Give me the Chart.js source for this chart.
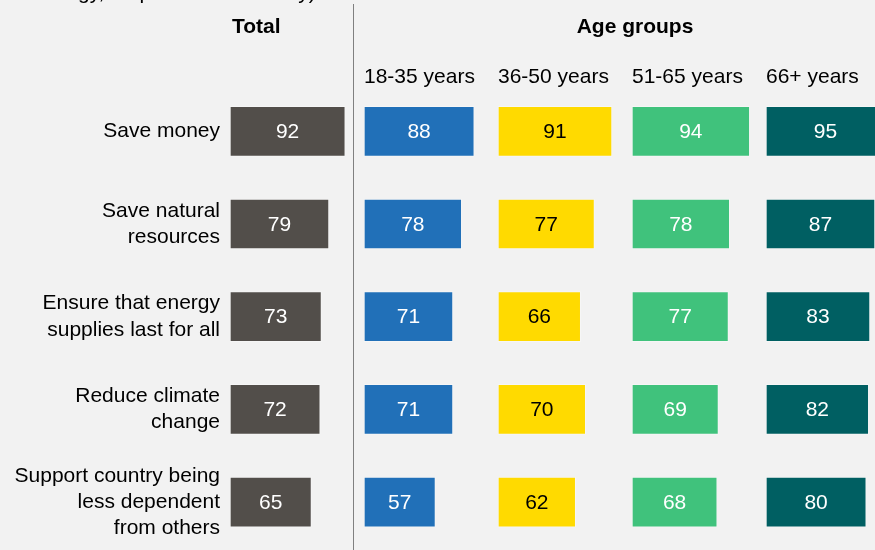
<!DOCTYPE html>
<html><head><meta charset="utf-8">
<script src="https://cdn.jsdelivr.net/npm/chart.js@4.4.0/dist/chart.umd.min.js"></script>
<style>
html,body{margin:0;padding:0;background:#f2f2f2;overflow:hidden;width:875px;height:550px;}
#wrap{position:absolute;left:0;top:0;width:900px;height:550px;}
</style></head><body>
<div id="wrap"><canvas id="c" width="900" height="550"></canvas></div>
<script>
const categories = [["Save money"],["Save natural","resources"],["Ensure that energy","supplies last for all"],["Reduce climate","change"],["Support country being","less dependent","from others"]];
const seriesNames = ["Total","18-35 years","36-50 years","51-65 years","66+ years"];
const total = [92,79,73,72,65];
const age18to35 = [88,78,71,71,57];
const age36to50 = [91,77,66,70,62];
const age51to65 = [94,78,77,69,68];
const age66plus = [95,87,83,82,80];
const headerTotal = "Total";
const headerAge = "Age groups";
const cutSubtitle = "of energy, respondents who say)";

const FONT = "'Liberation Sans', Arial, sans-serif";
const colors = ["#524e4a","#2170b8","#ffda00","#40c27c","#005f62"];
const labelColors = ["#ffffff","#ffffff","#000000","#ffffff","#ffffff"];
const seriesData = [total, age18to35, age36to50, age51to65, age66plus];
const axisIds = ["x0","x1","x2","x3","x4"];

const datasets = seriesData.map((d,i)=>({
  label: seriesNames[i],
  data: d,
  xAxisID: axisIds[i],
  yAxisID: 'y',
  backgroundColor: colors[i],
  borderColor: 'rgba(255,255,255,0.3)',
  borderWidth: 1,
  borderSkipped: false,
  barThickness: 50,
  grouped: false
}));

const scales = {
  y: {
    type: 'category',
    grid: {display:false, drawTicks:false},
    border: {display:false},
    ticks: {font:{family:FONT, size:21, lineHeight:1.24}, color:'#000', padding:10},
    afterFit(s){ s.width = 230; s.paddingTop = 0; s.paddingBottom = 0; }
  }
};
// top-positioned stacked axes are laid out in reverse creation order, so create them last-to-first
for (let i = axisIds.length - 1; i >= 0; i--) {
  scales[axisIds[i]] = {
    type: 'linear', position: 'top', stack: 'cols', stackWeight: 1,
    min: 0, max: 107,
    grid: {display:false, drawTicks:false},
    border: {display:false},
    ticks: {display:false},
    title: {display: i>0, text: seriesNames[i], align:'start', color:'#000',
            font:{family:FONT, size:21}, padding:{top:65, bottom:0}},
    afterFit(s){ s.height = 85; }
  };
}

const decor = {
  id: 'decor',
  beforeDraw(chart){
    const ctx = chart.ctx;
    ctx.save(); ctx.fillStyle = '#f2f2f2'; ctx.fillRect(0,0,chart.width,chart.height); ctx.restore();
  },
  afterDatasetsDraw(chart){
    const ctx = chart.ctx;
    ctx.save();
    ctx.font = "21px " + FONT;
    ctx.textAlign = 'center';
    ctx.textBaseline = 'middle';
    chart.data.datasets.forEach((ds,i)=>{
      const meta = chart.getDatasetMeta(i);
      meta.data.forEach((bar,j)=>{
        const p = bar.getProps(['x','y','base'], true);
        ctx.fillStyle = labelColors[i];
        ctx.fillText(String(ds.data[j]), (p.x + p.base)/2, p.y + 1);
      });
    });
    ctx.restore();
  },
  afterDraw(chart){
    const ctx = chart.ctx;
    const x0 = chart.scales.x0, x1 = chart.scales.x1, x4 = chart.scales.x4;
    ctx.save();
    const sx = Math.round(x1.left - 11) + 0.5;
    ctx.strokeStyle = '#808080'; ctx.lineWidth = 1;
    ctx.beginPath(); ctx.moveTo(sx, 4); ctx.lineTo(sx, chart.height); ctx.stroke();
    ctx.fillStyle = '#000';
    ctx.textBaseline = 'middle';
    ctx.font = "bold 21px " + FONT;
    ctx.textAlign = 'left';
    ctx.fillText(headerTotal, x0.left + 2, 27);
    ctx.textAlign = 'center';
    ctx.fillText(headerAge, (x1.left + x4.right)/2 + 3, 27);
    ctx.font = "21px " + FONT;
    ctx.textAlign = 'left';
    ctx.textBaseline = 'alphabetic';
    ctx.fillText(cutSubtitle, 12.6, -1);
    ctx.restore();
  }
};

new Chart(document.getElementById('c'), {
  type: 'bar',
  data: {labels: categories, datasets},
  options: {
    indexAxis: 'y',
    responsive: false,
    animation: false,
    devicePixelRatio: 1,
    layout: {padding: {top:0, bottom:1.6, left:0, right:0}},
    plugins: {legend:{display:false}, tooltip:{enabled:false}, title:{display:false}},
    scales
  },
  plugins: [decor]
});
</script>
</body></html>
